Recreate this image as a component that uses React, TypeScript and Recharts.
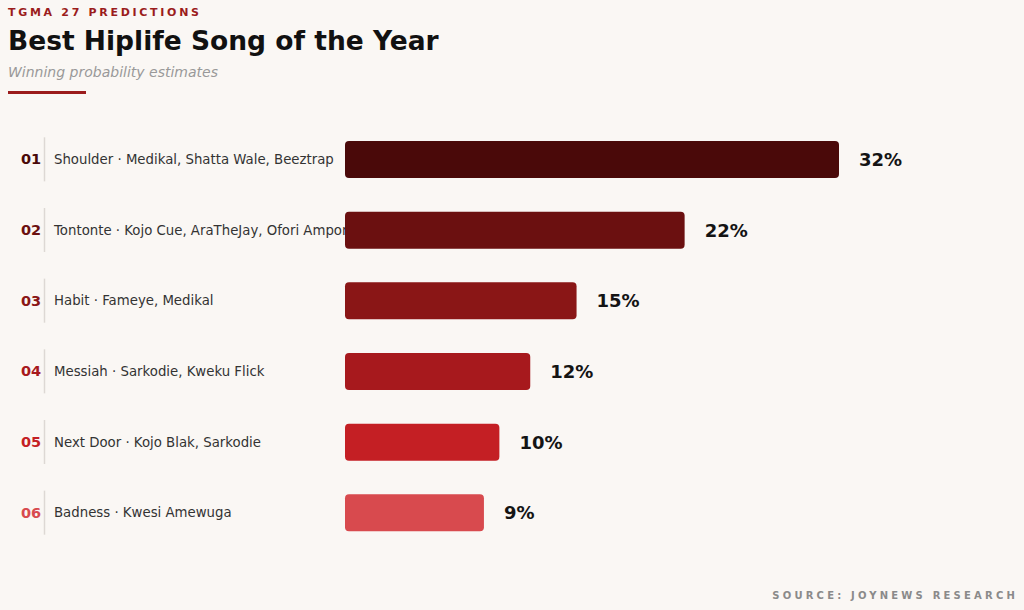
import React from 'react';
import { BarChart, Bar, XAxis, YAxis, Cell, LabelList } from 'recharts';

const ranks = ['01', '02', '03', '04', '05', '06'];
const songs = [
  'Shoulder · Medikal, Shatta Wale, Beeztrap',
  'Tontonte · Kojo Cue, AraTheJay, Ofori Amponsah',
  'Habit · Fameye, Medikal',
  'Messiah · Sarkodie, Kweku Flick',
  'Next Door · Kojo Blak, Sarkodie',
  'Badness · Kwesi Amewuga',
];
const probabilities = [32, 22, 15, 12, 10, 9];
const colors = ['#4a0909', '#6b1010', '#8a1616', '#a7191d', '#c41f24', '#d84a4e'];

const data = songs.map((song, i) => ({ song, rank: ranks[i], value: probabilities[i] }));

const FONT = '"DejaVu Sans", Verdana, sans-serif';

const SongTick = (props: any) => {
  const { y, payload } = props;
  const i = songs.indexOf(payload.value);
  return (
    <g>
      <defs>
        <clipPath id={`clip-${i}`}>
          <rect x={0} y={y - 20} width={345} height={40} />
        </clipPath>
      </defs>
      <text x={21} y={y} dy={5} fontSize={14.5} fontWeight={700} fill={colors[i]} fontFamily={FONT}>
        {ranks[i]}
      </text>
      <line x1={44.5} x2={44.5} y1={y - 22} y2={y + 22} stroke="#ddd8d4" strokeWidth={1.5} />
      <text x={54} y={y} dy={4.6} fontSize={13.3} fill="#333" fontFamily={FONT} clipPath={`url(#clip-${i})`}>
        {payload.value}
      </text>
    </g>
  );
};

export default function App() {
  return (
    <div
      style={{
        position: 'absolute',
        left: 0,
        top: 0,
        width: 1024,
        height: 610,
        background: '#faf7f4',
        fontFamily: FONT,
        overflow: 'hidden',
      }}
    >
      <div style={{ position: 'absolute', left: 8, top: 6, fontSize: 11, fontWeight: 700, letterSpacing: 2.7, color: '#9b1c1c' }}>
        TGMA 27 PREDICTIONS
      </div>
      <div style={{ position: 'absolute', left: 8, top: 25, fontSize: 26.5, fontWeight: 700, color: '#111' }}>
        Best Hiplife Song of the Year
      </div>
      <div style={{ position: 'absolute', left: 8, top: 64, fontSize: 14, fontStyle: 'italic', color: '#999' }}>
        Winning probability estimates
      </div>
      <div style={{ position: 'absolute', left: 8, top: 91, width: 78, height: 3, background: '#9b1c1c' }} />

      <div style={{ position: 'absolute', left: 0, top: 0 }}>
        <BarChart
          width={1024}
          height={610}
          data={data}
          layout="vertical"
          margin={{ top: 124, right: 185, bottom: 62, left: 0 }}
          barSize={37}
        >
          <XAxis type="number" domain={[0, 32]} hide />
          <YAxis
            type="category"
            dataKey="song"
            width={345}
            axisLine={false}
            tickLine={false}
            tick={<SongTick />}
            interval={0}
          />
          <Bar dataKey="value" radius={4} isAnimationActive={false}>
            {data.map((d, i) => (
              <Cell key={d.rank} fill={colors[i]} />
            ))}
            <LabelList
              dataKey="value"
              position="right"
              offset={20}
              formatter={(v: any) => `${v}%`}
              style={{ fontSize: 18, fontWeight: 700, fill: '#141414', fontFamily: FONT }}
            />
          </Bar>
        </BarChart>
      </div>

      <div
        style={{
          position: 'absolute',
          right: 6,
          top: 590,
          fontSize: 10,
          fontWeight: 700,
          letterSpacing: 3.2,
          color: '#8a8a8a',
        }}
      >
        SOURCE: JOYNEWS RESEARCH
      </div>
    </div>
  );
}
